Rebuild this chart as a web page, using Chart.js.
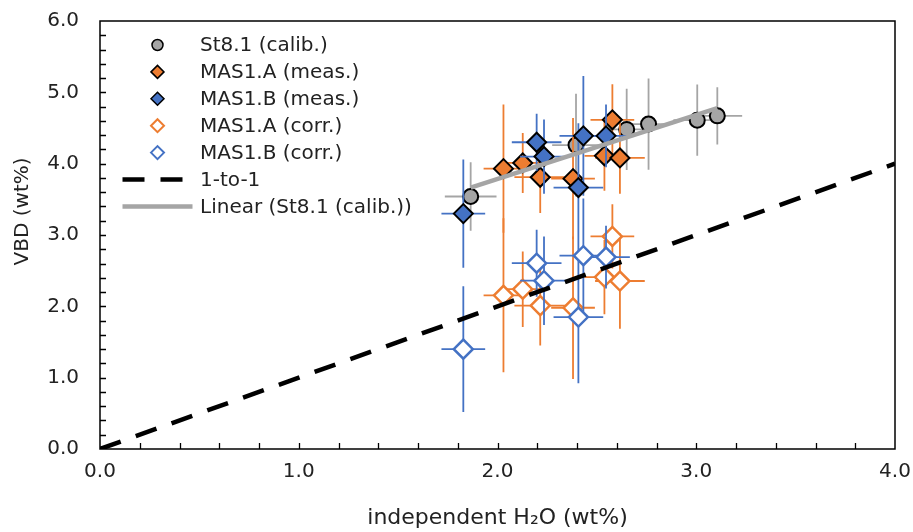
<!DOCTYPE html>
<html>
<head>
<meta charset="utf-8">
<script src="https://cdn.jsdelivr.net/npm/chart.js@4.4.1/dist/chart.umd.min.js"></script>
<style>
  html, body { margin: 0; padding: 0; background: #fff; }
  #wrap { width: 913px; height: 532px; }
</style>
</head>
<body>
<div id="wrap"><canvas id="vbdchart"></canvas></div>
<script>
// values
const stX = [1.865, 2.395, 2.65, 2.76, 3.005, 3.106]
const stY = [3.54, 4.26, 4.48, 4.555, 4.61, 4.67]
const stErrX = [0.13, 0.12, 0.12, 0.12, 0.12, 0.125]
const stErrY = [0.48, 0.72, 0.57, 0.64, 0.5, 0.4]

const aX = [2.03, 2.127, 2.215, 2.38, 2.578, 2.538, 2.616]
const aMeasY = [3.93, 4.01, 3.81, 3.79, 4.615, 4.11, 4.08]
const aCorrY = [2.155, 2.24, 2.01, 1.98, 2.98, 2.41, 2.355]
const aErrX = [0.1, 0.1, 0.13, 0.11, 0.11, 0.1, 0.125]
const aMeasErrY = [0.9, 0.42, 0.5, 0.85, 0.5, 0.49, 0.5]
const aCorrErrY = [1.08, 0.53, 0.56, 1.0, 0.45, 0.52, 0.67]

const bX = [1.828, 2.197, 2.234, 2.432, 2.546, 2.407]
const bMeasY = [3.30, 4.30, 4.10, 4.39, 4.39, 3.665]
const bCorrY = [1.40, 2.605, 2.36, 2.71, 2.69, 1.85]
const bErrX = [0.11, 0.125, 0.12, 0.12, 0.12, 0.125]
const bMeasErrY = [0.76, 0.4, 0.52, 0.84, 0.44, 0.9]
const bCorrErrY = [0.88, 0.47, 0.62, 0.8, 0.44, 0.93]

const oneX = [0, 4]
const oneY = [0, 4]
const trendX = [1.865, 3.106]
const trendY = [3.665, 4.78]

const xTicks = [0, 1, 2, 3, 4]
const yTicks = [0, 1, 2, 3, 4, 5, 6]

const ORANGE = '#ED7D31'
const BLUE = '#4472C4'
const GREY = '#A5A5A5'
const FONT = '"DejaVu Sans", sans-serif'
const TEXT = '#222222'

const pts = (xs, ys) => xs.map((x, i) => ({ x: x, y: ys[i] }))

// error bars, drawn just before the markers of their own series
const errorBars = {
  id: 'errorBars',
  beforeDatasetDraw (chart, args) {
    const ds = chart.data.datasets[args.index]
    if (!ds.errX) return
    const sx = chart.scales.x
    const sy = chart.scales.y
    const ctx = chart.ctx
    ctx.save()
    ctx.strokeStyle = ds.errColor
    ctx.lineWidth = 1.8
    ds.data.forEach((p, i) => {
      const px = sx.getPixelForValue(p.x)
      const py = sy.getPixelForValue(p.y)
      ctx.beginPath()
      ctx.moveTo(sx.getPixelForValue(p.x - ds.errX[i]), py)
      ctx.lineTo(sx.getPixelForValue(p.x + ds.errX[i]), py)
      ctx.moveTo(px, sy.getPixelForValue(p.y - ds.errY[i]))
      ctx.lineTo(px, sy.getPixelForValue(p.y + ds.errY[i]))
      ctx.stroke()
    })
    ctx.restore()
  }
}

// box around the plot, small inward ticks every 0.2, y title
const frame = {
  id: 'frame',
  afterDraw (chart) {
    const ctx = chart.ctx
    const a = chart.chartArea
    const sx = chart.scales.x
    const sy = chart.scales.y
    ctx.save()
    ctx.strokeStyle = '#000'
    ctx.lineWidth = 1.5
    ctx.strokeRect(a.left, a.top, a.right - a.left, a.bottom - a.top)
    ctx.lineWidth = 1.3
    ctx.beginPath()
    for (let k = 1; k < 20; k++) {
      const px = Math.round(sx.getPixelForValue(k * 0.2)) + 0.5
      ctx.moveTo(px, a.bottom)
      ctx.lineTo(px, a.bottom - 6)
    }
    for (let k = 1; k < 30; k++) {
      const py = Math.round(sy.getPixelForValue(k * 0.2)) + 0.5
      ctx.moveTo(a.left, py)
      ctx.lineTo(a.left + 6, py)
    }
    ctx.stroke()

    // y axis title sits a little above the middle of the plot
    ctx.translate(a.left - 77, a.top + (a.bottom - a.top) * 0.445)
    ctx.rotate(-Math.PI / 2)
    ctx.font = '20px ' + FONT
    ctx.fillStyle = TEXT
    ctx.textAlign = 'center'
    ctx.textBaseline = 'middle'
    ctx.fillText('VBD (wt%)', 0, 0)
    ctx.restore()
  }
}

function marker (ctx, style, cx, cy, r) {
  ctx.beginPath()
  if (style === 'circle') {
    ctx.arc(cx, cy, r, 0, Math.PI * 2)
  } else {
    ctx.moveTo(cx - r, cy)
    ctx.lineTo(cx, cy - r)
    ctx.lineTo(cx + r, cy)
    ctx.lineTo(cx, cy + r)
    ctx.closePath()
  }
  ctx.fill()
  ctx.stroke()
}

// legend inside the plot, top left
const legendBox = {
  id: 'legendBox',
  afterDraw (chart) {
    const ctx = chart.ctx
    const a = chart.chartArea
    ctx.save()
    ctx.font = '20px ' + FONT
    ctx.textBaseline = 'middle'
    chart.data.datasets.forEach((ds, i) => {
      const y = a.top + 24 + i * 26.9
      const cx = a.left + 57.5
      if (ds.showLine) {
        ctx.strokeStyle = ds.borderColor
        ctx.lineWidth = ds.borderWidth
        ctx.setLineDash(ds.borderDash || [])
        ctx.beginPath()
        ctx.moveTo(cx - 35, y)
        ctx.lineTo(cx + 35, y)
        ctx.stroke()
        ctx.setLineDash([])
      } else {
        ctx.fillStyle = ds.backgroundColor
        ctx.strokeStyle = ds.borderColor
        ctx.lineWidth = ds.legendBorder
        marker(ctx, ds.pointStyle, cx, y, ds.pointStyle === 'circle' ? 5.5 : 6.5)
      }
      ctx.fillStyle = TEXT
      ctx.fillText(ds.label, a.left + 100, y + 1)
    })
    ctx.restore()
  }
}

new Chart(document.getElementById('vbdchart'), {
  type: 'scatter',
  data: {
    datasets: [
      {
        label: 'St8.1 (calib.)',
        data: pts(stX, stY),
        errX: stErrX,
        errY: stErrY,
        errColor: GREY,
        pointStyle: 'circle',
        pointRadius: 7.5,
        backgroundColor: GREY,
        borderColor: '#000',
        borderWidth: 2,
        legendBorder: 1.5,
        order: 7
      },
      {
        label: 'MAS1.A (meas.)',
        data: pts(aX, aMeasY),
        errX: aErrX,
        errY: aMeasErrY,
        errColor: ORANGE,
        pointStyle: 'rectRot',
        pointRadius: 9.5,
        backgroundColor: ORANGE,
        borderColor: '#000',
        borderWidth: 2,
        legendBorder: 1.5,
        order: 6
      },
      {
        label: 'MAS1.B (meas.)',
        data: pts(bX, bMeasY),
        errX: bErrX,
        errY: bMeasErrY,
        errColor: BLUE,
        pointStyle: 'rectRot',
        pointRadius: 9.5,
        backgroundColor: BLUE,
        borderColor: '#000',
        borderWidth: 2,
        legendBorder: 1.5,
        order: 5
      },
      {
        label: 'MAS1.A (corr.)',
        data: pts(aX, aCorrY),
        errX: aErrX,
        errY: aCorrErrY,
        errColor: ORANGE,
        pointStyle: 'rectRot',
        pointRadius: 9.5,
        backgroundColor: '#fff',
        borderColor: ORANGE,
        borderWidth: 2.5,
        legendBorder: 2,
        order: 4
      },
      {
        label: 'MAS1.B (corr.)',
        data: pts(bX, bCorrY),
        errX: bErrX,
        errY: bCorrErrY,
        errColor: BLUE,
        pointStyle: 'rectRot',
        pointRadius: 9.5,
        backgroundColor: '#fff',
        borderColor: BLUE,
        borderWidth: 2.5,
        legendBorder: 2,
        order: 3
      },
      {
        label: '1-to-1',
        data: pts(oneX, oneY),
        showLine: true,
        pointRadius: 0,
        borderColor: '#000',
        borderWidth: 4.5,
        borderDash: [22, 16],
        borderCapStyle: 'butt',
        order: 2
      },
      {
        label: 'Linear (St8.1 (calib.))',
        data: pts(trendX, trendY),
        showLine: true,
        pointRadius: 0,
        borderColor: GREY,
        borderWidth: 4.5,
        borderCapStyle: 'butt',
        order: 1
      }
    ]
  },
  options: {
    responsive: true,
    maintainAspectRatio: false,
    animation: false,
    layout: { padding: { top: 21, right: 18, left: 0, bottom: 0 } },
    plugins: {
      legend: { display: false },
      tooltip: { enabled: false }
    },
    scales: {
      x: {
        type: 'linear',
        min: 0,
        max: 4,
        afterBuildTicks: (scale) => { scale.ticks = xTicks.map(v => ({ value: v })) },
        afterFit: (scale) => {
          scale.height = 83
          scale.paddingLeft = 0
          scale.paddingRight = 0
        },
        grid: { display: false, drawTicks: false },
        border: { display: false },
        ticks: {
          padding: 11,
          color: TEXT,
          font: { family: FONT, size: 20 },
          callback: (v) => Number(v).toFixed(1)
        },
        title: {
          display: true,
          text: 'independent H₂O (wt%)',
          color: TEXT,
          font: { family: FONT, size: 22 },
          padding: { top: 1, bottom: 1 }
        }
      },
      y: {
        type: 'linear',
        min: 0,
        max: 6,
        afterBuildTicks: (scale) => { scale.ticks = yTicks.map(v => ({ value: v })) },
        afterFit: (scale) => {
          scale.width = 100
          scale.paddingTop = 0
          scale.paddingBottom = 0
        },
        grid: { display: false, drawTicks: false },
        border: { display: false },
        ticks: {
          padding: 21,
          color: TEXT,
          font: { family: FONT, size: 20 },
          callback: (v) => Number(v).toFixed(1)
        }
      }
    }
  },
  plugins: [errorBars, frame, legendBox]
})
</script>
</body>
</html>
